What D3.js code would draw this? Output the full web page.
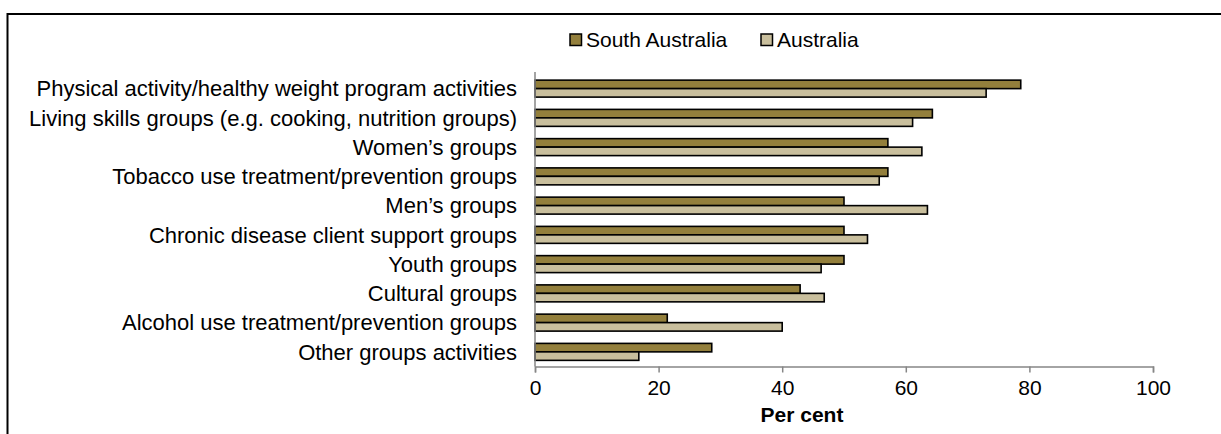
<!DOCTYPE html>
<html>
<head>
<meta charset="utf-8">
<script src="https://cdn.jsdelivr.net/npm/d3@7"></script>
<style>
  html, body { margin: 0; padding: 0; background: #fff; }
  svg { display: block; font-family: "Liberation Sans", Arial, sans-serif; }
</style>
</head>
<body>
<svg id="chart" width="1221" height="434"></svg>
<script>
const categories = [
  "Physical activity/healthy weight program activities",
  "Living skills groups (e.g. cooking, nutrition groups)",
  "Women\u2019s groups",
  "Tobacco use treatment/prevention groups",
  "Men\u2019s groups",
  "Chronic disease client support groups",
  "Youth groups",
  "Cultural groups",
  "Alcohol use treatment/prevention groups",
  "Other groups activities"
];
const seriesNames = ["South Australia", "Australia"];
const southAustralia = [78.6, 64.3, 57.1, 57.1, 50.0, 50.0, 50.0, 42.9, 21.4, 28.6];
const australia = [73.0, 61.1, 62.6, 55.7, 63.5, 53.8, 46.3, 46.8, 40.0, 16.8];
const xTicks = [0, 20, 40, 60, 80, 100];
const axisTitle = "Per cent";

const colors = ["#937f3c", "#c9bf9d"];
const fontSize = 21;
const labelFontSize = 22;

const svg = d3.select("#chart");
const margin = { left: 535, right: 68, top: 74, bottom: 67.5 };
const W = 1221, H = 434;

// outer frame (only top and left visible)
svg.append("rect")
  .attr("x", 7.5).attr("y", 14).attr("width", 1400).attr("height", 600)
  .attr("fill", "none").attr("stroke", "#000").attr("stroke-width", 2);

const x = d3.scaleLinear().domain([0, 100]).range([margin.left, W - margin.right]);
const y = d3.scaleBand().domain(categories).range([margin.top, H - margin.bottom]).paddingInner(0.42).paddingOuter(0.21);
const ySub = d3.scaleBand().domain(seriesNames).range([0, y.bandwidth()]);

const data = categories.map((c, i) => ({ cat: c, vals: [southAustralia[i], australia[i]] }));

const groups = svg.append("g").selectAll("g").data(data).join("g")
  .attr("transform", d => `translate(0,${y(d.cat)})`);
groups.selectAll("rect").data(d => d.vals.map((v, j) => ({ v, s: seriesNames[j], j })))
  .join("rect")
  .attr("x", x(0))
  .attr("y", d => ySub(d.s))
  .attr("width", d => x(d.v) - x(0))
  .attr("height", ySub.bandwidth())
  .attr("fill", d => colors[d.j])
  .attr("stroke", "#000").attr("stroke-width", 1.6);

// x axis
const xAxis = d3.axisBottom(x).tickValues(xTicks).tickSize(6).tickSizeOuter(6).tickPadding(8);
const gx = svg.append("g").attr("transform", `translate(0,${H - margin.bottom})`).call(xAxis);
gx.select(".domain").attr("stroke", "#868686").attr("stroke-width", 1.5);
gx.selectAll(".tick line").attr("stroke", "#868686").attr("stroke-width", 1.5);
gx.selectAll(".tick text").attr("font-size", fontSize).attr("fill", "#000")
  .attr("font-family", "Liberation Sans, Arial, sans-serif");

// y axis (line only)
svg.append("line")
  .attr("x1", x(0)).attr("x2", x(0))
  .attr("y1", margin.top - 2).attr("y2", H - margin.bottom)
  .attr("stroke", "#868686").attr("stroke-width", 1.5);

// category labels
svg.append("g").selectAll("text").data(categories).join("text")
  .attr("x", x(0) - 18)
  .attr("y", d => y(d) + y.bandwidth() / 2)
  .attr("dy", "0.35em")
  .attr("text-anchor", "end")
  .attr("font-size", labelFontSize)
  .attr("fill", "#000")
  .text(d => d);

// axis title
svg.append("text")
  .attr("x", 802).attr("y", 422)
  .attr("text-anchor", "middle")
  .attr("font-size", fontSize).attr("font-weight", "bold")
  .text(axisTitle);

// legend
const legendItems = [
  { name: seriesNames[0], x: 570, color: colors[0] },
  { name: seriesNames[1], x: 761, color: colors[1] }
];
const lg = svg.append("g").selectAll("g").data(legendItems).join("g")
  .attr("transform", d => `translate(${d.x},34)`);
lg.append("rect").attr("width", 11.5).attr("height", 11.5)
  .attr("fill", d => d.color).attr("stroke", "#000").attr("stroke-width", 1.5);
lg.append("text").attr("x", 16).attr("y", 12.5)
  .attr("font-size", fontSize).attr("fill", "#000")
  .text(d => d.name);
</script>
</body>
</html>
